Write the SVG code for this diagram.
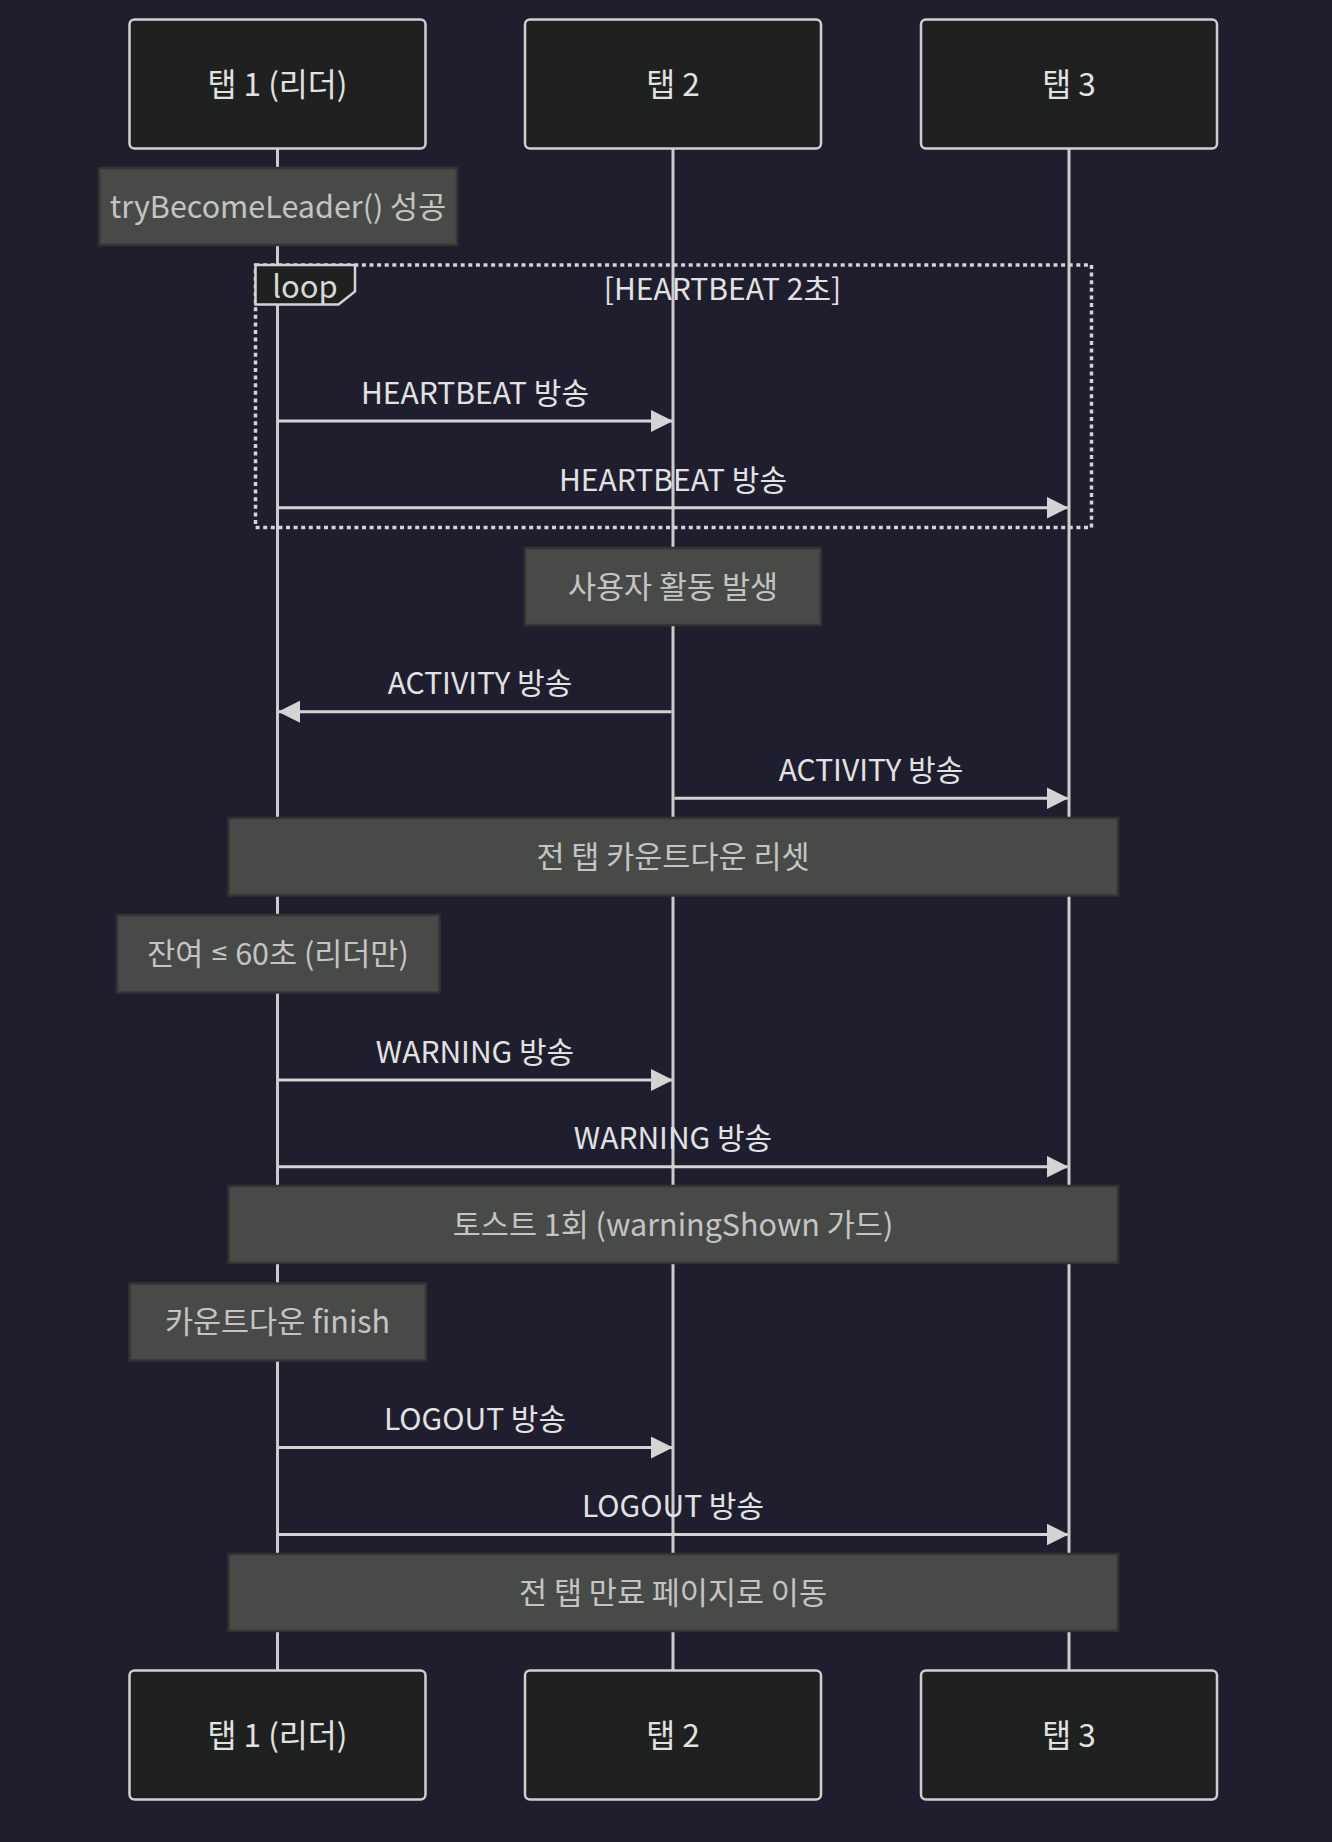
<svg xmlns="http://www.w3.org/2000/svg" width="1332" height="1842" viewBox="0 0 1332 1842">
<defs>
<marker id="arrow" viewBox="0 0 22 22" markerWidth="22" markerHeight="22" refX="21" refY="11" markerUnits="userSpaceOnUse" orient="auto">
<path d="M0,0 L22,11 L0,22 z" fill="#d4d4d4"/>
</marker>
</defs>
<style>
text{font-family:"Noto Sans CJK KR","Noto Sans",sans-serif;}
.actor rect{fill:#1f2020;stroke:#cfcfcf;stroke-width:2.5;}
.actor text{fill:#e2e2e2;font-size:31.5px;text-anchor:middle;dominant-baseline:central;}
.life{stroke:#cccccc;stroke-width:3;}
.note rect{fill:#484a48;stroke:#333433;stroke-width:2.5;}
.note text{fill:#c4c4c4;font-size:30.5px;text-anchor:middle;dominant-baseline:central;}
.le{font-family:"DejaVu Sans Condensed","Noto Sans",sans-serif;font-size:24px;}
.msg{stroke:#d4d4d4;stroke-width:3;fill:none;marker-end:url(#arrow);}
.mlabel{fill:#e2e2e2;font-size:30px;text-anchor:middle;}
.loopline{fill:none;stroke:#d4d4d4;stroke-width:3.5;stroke-dasharray:4 3.6;}
.loopbox{fill:#1f2020;stroke:#d4d4d4;stroke-width:2.5;}
.looptxt{fill:#d8d8d8;font-size:31px;text-anchor:middle;}
</style>
<rect x="0" y="0" width="1332" height="1842" fill="#1f1e2e"/>
<g id="lifelines">
<line class="life" x1="277.5" y1="148.5" x2="277.5" y2="1670.5"/>
<line class="life" x1="673" y1="148.5" x2="673" y2="1670.5"/>
<line class="life" x1="1069" y1="148.5" x2="1069" y2="1670.5"/>
</g>
<g id="actor-tab1-top" class="actor"><rect x="129.5" y="19.5" width="296" height="129" rx="5"/><text x="277.5" y="82">탭 1 (리더)</text></g>
<g id="actor-tab2-top" class="actor"><rect x="525" y="19.5" width="296" height="129" rx="5"/><text x="673" y="82">탭 2</text></g>
<g id="actor-tab3-top" class="actor"><rect x="921" y="19.5" width="296" height="129" rx="5"/><text x="1069" y="82">탭 3</text></g>
<g id="actor-tab1-bottom" class="actor"><rect x="129.5" y="1670.5" width="296" height="129" rx="5"/><text x="277.5" y="1733">탭 1 (리더)</text></g>
<g id="actor-tab2-bottom" class="actor"><rect x="525" y="1670.5" width="296" height="129" rx="5"/><text x="673" y="1733">탭 2</text></g>
<g id="actor-tab3-bottom" class="actor"><rect x="921" y="1670.5" width="296" height="129" rx="5"/><text x="1069" y="1733">탭 3</text></g>
<g id="note-leader" class="note"><rect x="99" y="168" width="358" height="77"/><text x="278" y="204.5">tryBecomeLeader() 성공</text></g>
<g id="loop-heartbeat">
<rect class="loopline" x="255.5" y="265" width="836" height="262.5"/>
<polygon class="loopbox" points="255.5,265 355,265 355,291.5 338.5,304.5 255.5,304.5"/>
<text class="looptxt" x="305" y="298">loop</text>
<text class="mlabel" x="722.5" y="300">[HEARTBEAT 2초]</text>
</g>
<g id="note-activity" class="note"><rect x="525" y="548" width="296" height="77"/><text x="673" y="584.5">사용자 활동 발생</text></g>
<g id="note-reset" class="note"><rect x="228.5" y="818" width="889.5" height="77.5"/><text x="673" y="855">전 탭 카운트다운 리셋</text></g>
<g id="note-remaining" class="note"><rect x="117" y="915" width="322.5" height="77.5"/><text x="278" y="952">잔여 <tspan class="le">≤</tspan> 60초 (리더만)</text></g>
<g id="note-toast" class="note"><rect x="228.5" y="1186" width="889.5" height="77"/><text x="673" y="1222.5">토스트 1회 (warningShown 가드)</text></g>
<g id="note-finish" class="note"><rect x="129.5" y="1283.5" width="296.5" height="77"/><text x="277.5" y="1320">카운트다운 finish</text></g>
<g id="note-expire" class="note"><rect x="228.5" y="1554" width="889.5" height="77"/><text x="673" y="1590.5">전 탭 만료 페이지로 이동</text></g>
<g id="connectors">
<line class="msg" x1="279" y1="421" x2="672" y2="421"/>
<text class="mlabel" x="475" y="404">HEARTBEAT 방송</text>
<line class="msg" x1="279" y1="507.7" x2="1067.5" y2="507.7"/>
<text class="mlabel" x="673" y="491">HEARTBEAT 방송</text>
<line class="msg" x1="671.5" y1="711.7" x2="279" y2="711.7"/>
<text class="mlabel" x="480" y="694">ACTIVITY 방송</text>
<line class="msg" x1="674.5" y1="798.3" x2="1067.5" y2="798.3"/>
<text class="mlabel" x="871" y="781">ACTIVITY 방송</text>
<line class="msg" x1="279" y1="1080" x2="672" y2="1080"/>
<text class="mlabel" x="475" y="1062.5">WARNING 방송</text>
<line class="msg" x1="279" y1="1166.7" x2="1067.5" y2="1166.7"/>
<text class="mlabel" x="673" y="1149">WARNING 방송</text>
<line class="msg" x1="279" y1="1447.5" x2="672" y2="1447.5"/>
<text class="mlabel" x="475" y="1430">LOGOUT 방송</text>
<line class="msg" x1="279" y1="1534.5" x2="1067.5" y2="1534.5"/>
<text class="mlabel" x="673" y="1517">LOGOUT 방송</text>
</g>
</svg>
